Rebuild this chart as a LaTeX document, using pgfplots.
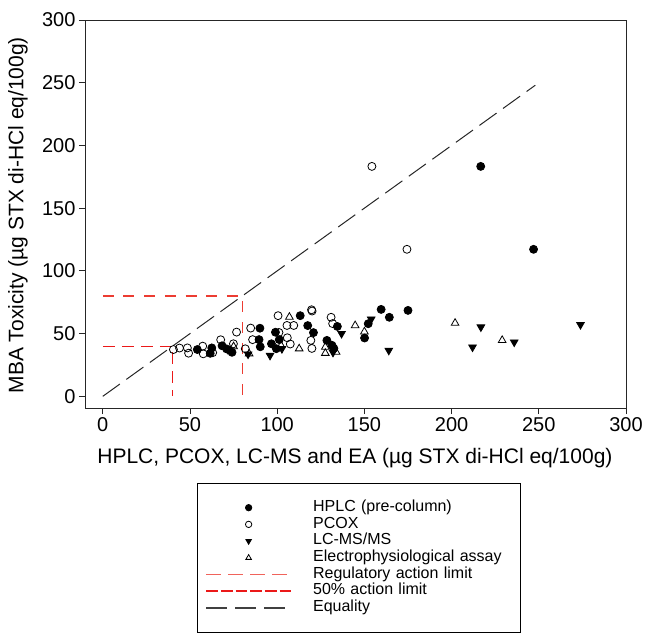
\documentclass[border=0pt]{standalone}
\usepackage{fontspec}
\setmainfont{Liberation Sans}
\usepackage{pgfplots}
\pgfplotsset{compat=1.18}
\definecolor{reglim}{RGB}{236,60,50}
\definecolor{halflim}{RGB}{235,25,25}
\pgfplotsset{
 markleg/.style={legend image code/.code={\path[draw=none,fill=none] (0pt,-6pt) rectangle (107pt,6pt); \draw[mark repeat=2,mark phase=2,##1,mark size=3.2pt] plot coordinates {(0pt,0pt) (42.5pt,0pt) (85pt,0pt)};}},
 lineleg/.style={legend image code/.code={\path[draw=none,fill=none] (0pt,-6pt) rectangle (107pt,6pt); \draw[##1] (0pt,0pt) -- (85pt,0pt);}},
 hplc/.style={only marks, mark=*, mark size=4pt, line width=0.8pt, draw=black, fill=black},
 pcox/.style={only marks, mark=o, mark size=4pt, line width=0.8pt, draw=black, mark options={fill=white}},
 lcms/.style={only marks, mark=triangle*, mark size=4.4pt, line width=0.8pt, draw=black, fill=black, mark options={rotate=180}},
 ea/.style={only marks, mark=triangle, mark size=4.4pt, line width=0.8pt, draw=black, mark options={fill=white}},
}
\pgfplotstableread{
x y
54.2 37.3
61.6 34.3
62.5 38.6
68.4 40.3
71.0 37.8
74.1 35.1
89.6 45.2
90.1 54.3
90.3 39.5
96.7 41.9
99.0 51.1
99.5 38.0
101.2 45.2
113.2 64.3
117.5 56.4
120.8 50.8
128.5 44.6
131.4 40.7
132.5 38.2
134.5 55.7
150.1 46.5
152.2 57.9
159.6 69.3
164.3 63.0
175.0 68.5
216.7 183.3
247.0 117.2
}\hplcdata
\pgfplotstableread{
x y
40.5 37.3
44.0 38.5
48.5 38.6
49.2 34.4
57.3 40.0
57.6 33.9
63.0 34.8
67.6 45.1
74.9 41.9
76.7 51.2
81.7 37.9
84.8 54.4
85.9 45.2
100.5 64.3
101.0 50.9
105.6 56.5
109.5 56.5
105.8 46.7
107.5 41.7
119.7 69.0
120.0 68.0
119.3 44.6
119.9 38.2
130.9 63.0
131.8 58.0
154.3 183.3
174.4 117.2
}\pcoxdata
\pgfplotstableread{
x y
71.7 37.3
83.3 33.6
95.9 32.6
102.7 37.9
132.0 35.0
136.9 50.0
153.9 61.5
164.0 36.6
212.0 39.2
216.8 55.2
235.9 43.2
273.9 57.1
}\lcmsdata
\pgfplotstableread{
x y
75.0 39.7
83.9 34.0
102.2 40.6
107.0 63.2
112.6 38.0
127.6 39.3
127.6 34.4
133.8 35.3
144.7 56.5
150.0 51.5
202.0 58.4
229.0 44.7
}\eadata
\begin{document}
\begin{tikzpicture}
\path[use as bounding box] (-85pt,-234pt) rectangle (561pt,408pt);
\begin{axis}[
 scale only axis, width=541pt, height=388pt,
 xmin=-10.2, xmax=300, ymin=-9.3, ymax=300,
 xtick={0,50,...,300}, ytick={0,50,...,300},
 tick align=outside, xtick pos=bottom, ytick pos=left,
 major tick length=6pt,
 axis line style={line width=0.9pt, black!85},
 every tick/.style={line width=0.9pt, black!85},
 ticklabel style={font=\fontsize{20}{20}\selectfont},
 /pgf/number format/assume math mode=true,
 xlabel={HPLC, PCOX, LC-MS and EA (µg STX di-HCl eq/100g)},
 ylabel={MBA Toxicity (µg STX di-HCl eq/100g)},
 label style={font=\fontsize{21}{21}\selectfont},
 xlabel style={at={(axis description cs:0.499,-0.129)}, anchor=center},
 ylabel style={at={(axis description cs:-0.124,0.497)}, anchor=center},
 legend cell align=left,
 legend style={at={(0.207,-0.193)}, anchor=north west, draw=black, line width=0.9pt,
   inner xsep=8pt, inner ysep=16pt, font=\fontsize{16}{16}\selectfont,
   nodes={inner xsep=0pt, inner ysep=0pt, text height=12pt, text depth=4.7pt, text width=199pt, align=left}},
]
\addlegendimage{hplc, markleg}
\addlegendentry{HPLC (pre-column)}
\addlegendimage{pcox, markleg}
\addlegendentry{PCOX}
\addlegendimage{lcms, markleg}
\addlegendentry{LC-MS/MS}
\addlegendimage{ea, markleg}
\addlegendentry{Electrophysiological assay}
\addlegendimage{lineleg, reglim!80, line width=1.4pt, dash pattern=on 14.7pt off 7.3pt}
\addlegendentry{Regulatory action limit}
\addlegendimage{lineleg, halflim, line width=1.4pt, dash pattern=on 11.7pt off 3pt}
\addlegendentry{50\% action limit}
\addlegendimage{lineleg, black!75, line width=1.4pt, dash pattern=on 21pt off 8pt}
\addlegendentry{Equality}

\addplot[reglim, line width=1.2pt, dash pattern=on 11pt off 9.7pt, forget plot] coordinates {(0,80) (80,80) (80,0)};
\addplot[halflim, line width=1.2pt, dash pattern=on 12pt off 7pt, forget plot] coordinates {(0,40) (40,40) (40,0)};
\addplot[black!85, line width=1pt, dash pattern=on 21pt off 8pt, forget plot] coordinates {(0,0) (248,248)};
\addplot[hplc, forget plot] table[x=x,y=y] {\hplcdata};
\addplot[pcox, forget plot] table[x=x,y=y] {\pcoxdata};
\addplot[lcms, forget plot] table[x=x,y=y] {\lcmsdata};
\addplot[ea, forget plot] table[x=x,y=y] {\eadata};
\end{axis}
\end{tikzpicture}
\end{document}
